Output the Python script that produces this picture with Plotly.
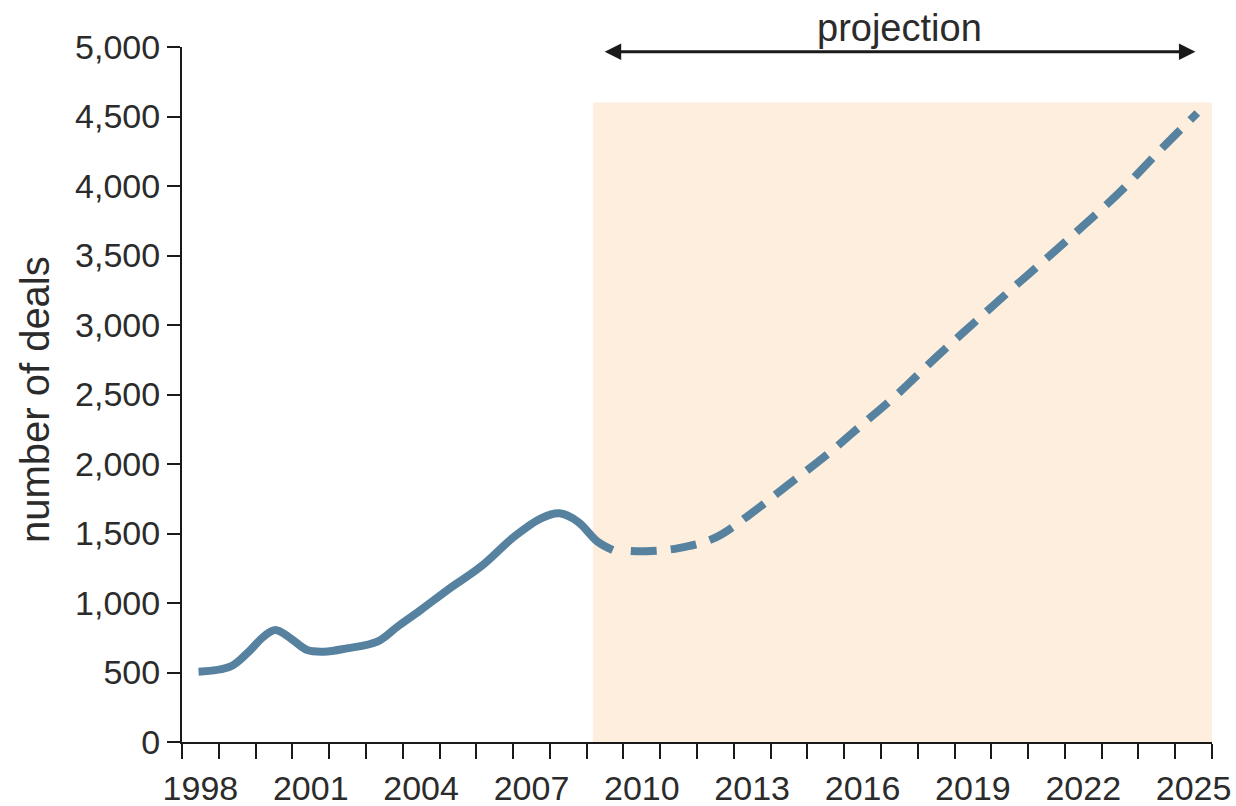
import plotly.graph_objects as go

# Recorded deal counts (solid) and the projected path (dashed), by fractional year
hist_years = [1998.45, 1999.31, 1999.77, 2000.22, 2000.54, 2000.95, 2001.4, 2001.86,
              2002.49, 2003.31, 2003.86, 2004.49, 2005.22, 2006.12, 2007.03, 2007.76,
              2008.26, 2008.76, 2009.3, 2009.71]
hist_deals = [506, 542, 638, 758, 806, 746, 662, 650,
              674, 722, 830, 950, 1094, 1261, 1477, 1609,
              1645, 1585, 1441, 1381]

proj_years = [2010.2, 2010.6, 2011.5, 2012.5, 2013.5, 2014.5, 2015.5, 2016.5, 2017.5,
              2018.5, 2019.5, 2020.5, 2021.5, 2022.5, 2023.5, 2024.5, 2025.6]
proj_deals = [1374, 1372, 1395, 1470, 1650, 1855, 2060, 2286, 2515,
              2768, 3008, 3246, 3478, 3714, 3957, 4233, 4525]

tick_years = [1998, 2001, 2004, 2007, 2010, 2013, 2016, 2019, 2022, 2025]
y_ticks = [0, 500, 1000, 1500, 2000, 2500, 3000, 3500, 4000, 4500, 5000]

projection_start = 2009.17
projection_end = 2026
shade_top = 4600
arrow_level = 4965

LINE = "#5682a0"
INK = "#2b2b2b"
FONT = "Liberation Sans, Arial, sans-serif"

fig = go.Figure()

# shaded projection period
fig.add_shape(type="rect", xref="x", yref="y",
              x0=projection_start, x1=projection_end, y0=0, y1=shade_top,
              fillcolor="#fdeedd", line=dict(width=0), layer="below")

fig.add_trace(go.Scatter(x=hist_years, y=hist_deals, mode="lines",
                         line=dict(color=LINE, width=8, shape="spline", smoothing=1.0),
                         showlegend=False, hoverinfo="skip"))
fig.add_trace(go.Scatter(x=proj_years, y=proj_deals, mode="lines",
                         line=dict(color=LINE, width=8, dash="26px,14px",
                                   shape="spline", smoothing=1.0),
                         showlegend=False, hoverinfo="skip"))

# double-headed arrow over the projection years
fig.add_annotation(x=2025.55, y=arrow_level, ax=2009.45, ay=arrow_level,
                   xref="x", yref="y", axref="x", ayref="y", text="",
                   showarrow=True, arrowside="end+start", arrowhead=2,
                   arrowsize=1.1, arrowwidth=3, arrowcolor="#1a1a1a")
fig.add_annotation(x=2017.5, y=1.027, xref="x", yref="paper", text="projection",
                   showarrow=False, xanchor="center", yanchor="middle",
                   font=dict(family=FONT, size=38, color=INK))

# y-axis title
fig.add_annotation(x=-0.1427, y=0.492, xref="paper", yref="paper",
                   text="number of deals", textangle=-90, showarrow=False,
                   xanchor="center", yanchor="middle",
                   font=dict(family=FONT, size=40, color=INK))

fig.update_layout(
    width=1236, height=806,
    margin=dict(l=182, r=24, t=47, b=64),
    paper_bgcolor="white", plot_bgcolor="white",
    font=dict(family=FONT, size=34, color=INK),
    xaxis=dict(range=[1998, 2026], automargin=False,
               tickmode="array",
               tickvals=[y + 0.5 for y in tick_years],
               ticktext=[str(y) for y in tick_years],
               ticks="outside", ticklen=15, tickcolor="rgba(0,0,0,0)",
               minor=dict(tickmode="linear", tick0=1998, dtick=1,
                          ticks="outside", ticklen=15, tickwidth=2,
                          tickcolor="#1a1a1a", showgrid=False),
               showline=True, linecolor="#1a1a1a", linewidth=2,
               showgrid=False, zeroline=False,
               tickfont=dict(family=FONT, size=34, color=INK)),
    yaxis=dict(range=[0, 5000], automargin=False,
               tickmode="array", tickvals=y_ticks,
               ticktext=[f"{v:,}" for v in y_ticks],
               ticks="outside", ticklen=13, tickwidth=2, tickcolor="#1a1a1a",
               showline=True, linecolor="#1a1a1a", linewidth=2,
               showgrid=False, zeroline=False,
               tickfont=dict(family=FONT, size=34, color=INK)),
)

fig.write_html("out.html")
